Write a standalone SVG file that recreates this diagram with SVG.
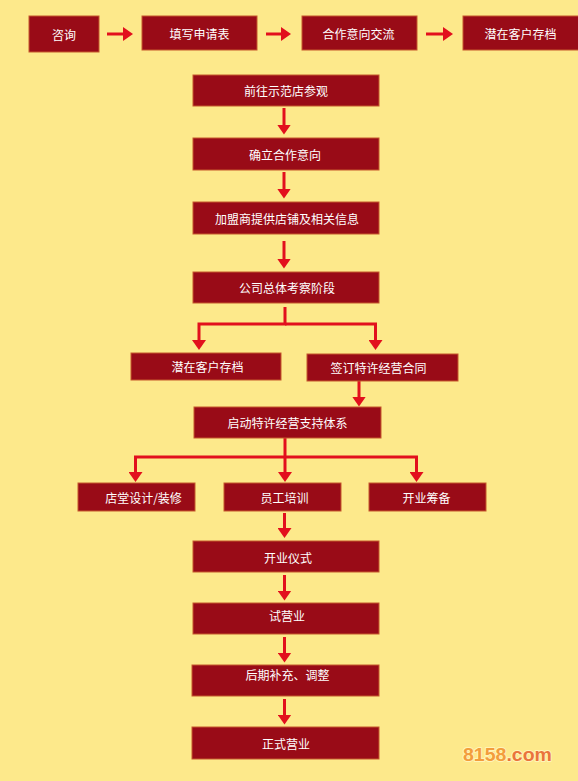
<svg xmlns="http://www.w3.org/2000/svg" width="578" height="781" viewBox="0 0 578 781">
<defs>
<style>
.box rect{fill:#990b17;stroke:#c5582c;stroke-width:1}
.box text{fill:#ffffff;font-family:"Noto Sans CJK SC","Noto Sans",sans-serif;font-size:12px;text-anchor:middle;dominant-baseline:central}
.conn line,.conn polyline{stroke:#e2101d;stroke-width:3;fill:none}
.wm{font-family:"Liberation Sans",Arial,sans-serif;font-weight:bold;font-size:19px;stroke:#fff4b8;stroke-width:2;paint-order:stroke;stroke-linejoin:round}
</style>
<marker id="ah" markerUnits="userSpaceOnUse" markerWidth="11" markerHeight="14" refX="0.5" refY="7" orient="auto" viewBox="0 0 11 14">
<path d="M0,0 L10,7 L0,14 Z" fill="#e2101d"/>
</marker>
</defs>
<rect width="578" height="781" fill="#fde98b"/>

<g class="conn">
<line x1="107" y1="34" x2="123.5" y2="34" marker-end="url(#ah)"/>
<line x1="266" y1="34" x2="281.5" y2="34" marker-end="url(#ah)"/>
<line x1="426" y1="34" x2="443.5" y2="34" marker-end="url(#ah)"/>
<line x1="284" y1="108" x2="284" y2="125" marker-end="url(#ah)"/>
<line x1="284" y1="172" x2="284" y2="189" marker-end="url(#ah)"/>
<line x1="284" y1="241" x2="284" y2="259" marker-end="url(#ah)"/>
<polyline points="285,307 285,324 199,324 199,340.5" marker-end="url(#ah)"/>
<polyline points="285,324 375.5,324 375.5,340.5" marker-end="url(#ah)"/>
<line x1="359" y1="381" x2="359" y2="397" marker-end="url(#ah)"/>
<polyline points="285,438 285,457 285,472.5" marker-end="url(#ah)"/>
<polyline points="285,457 135.5,457 135.5,472.5" marker-end="url(#ah)"/>
<polyline points="285,457 416.5,457 416.5,472.5" marker-end="url(#ah)"/>
<line x1="284.5" y1="513" x2="284.5" y2="528.5" marker-end="url(#ah)"/>
<line x1="284.5" y1="575" x2="284.5" y2="591" marker-end="url(#ah)"/>
<line x1="284.5" y1="637" x2="284.5" y2="653" marker-end="url(#ah)"/>
<line x1="284.5" y1="699" x2="284.5" y2="715" marker-end="url(#ah)"/>
</g>

<g id="n1" class="box"><rect x="29" y="16" width="70" height="36"/><text x="64" y="34">咨询</text></g>
<g id="n2" class="box"><rect x="142" y="16" width="115" height="34"/><text x="199.5" y="33.5">填写申请表</text></g>
<g id="n3" class="box"><rect x="302" y="16" width="115" height="34"/><text x="358.5" y="33.5">合作意向交流</text></g>
<g id="n4" class="box"><rect x="463" y="16" width="117" height="34"/><text x="520.5" y="33.5">潜在客户存档</text></g>
<g id="n5" class="box"><rect x="193" y="75" width="186" height="31"/><text x="286" y="90.5">前往示范店参观</text></g>
<g id="n6" class="box"><rect x="193" y="138" width="186" height="32"/><text x="285" y="154">确立合作意向</text></g>
<g id="n7" class="box"><rect x="193" y="202" width="186" height="32"/><text x="287" y="218">加盟商提供店铺及相关信息</text></g>
<g id="n8" class="box"><rect x="193" y="272" width="186" height="31"/><text x="287" y="287.5">公司总体考察阶段</text></g>
<g id="n9" class="box"><rect x="131" y="353" width="150" height="27"/><text x="207.5" y="366.5">潜在客户存档</text></g>
<g id="n10" class="box"><rect x="307" y="354" width="151" height="27"/><text x="378.5" y="367.5">签订特许经营合同</text></g>
<g id="n11" class="box"><rect x="194" y="407" width="187" height="31"/><text x="287.5" y="422.5">启动特许经营支持体系</text></g>
<g id="n12" class="box"><rect x="78" y="483" width="117" height="28"/><text x="143.5" y="497">店堂设计/装修</text></g>
<g id="n13" class="box"><rect x="224" y="483" width="117" height="28"/><text x="284.5" y="497">员工培训</text></g>
<g id="n14" class="box"><rect x="369" y="483" width="117" height="28"/><text x="426.5" y="497">开业筹备</text></g>
<g id="n15" class="box"><rect x="193" y="541" width="186" height="31"/><text x="288" y="557.5">开业仪式</text></g>
<g id="n16" class="box"><rect x="193" y="603" width="186" height="31"/><text x="287" y="615">试营业</text></g>
<g id="n17" class="box"><rect x="192" y="665" width="187" height="31"/><text x="287.5" y="674.5">后期补充、调整</text></g>
<g id="n18" class="box"><rect x="192" y="727" width="187" height="32"/><text x="286" y="743">正式营业</text></g>

<text class="wm" x="463" y="761" textLength="89" lengthAdjust="spacingAndGlyphs"><tspan fill="#f39d3c">8158</tspan><tspan fill="#ea743c">.com</tspan></text>
</svg>
